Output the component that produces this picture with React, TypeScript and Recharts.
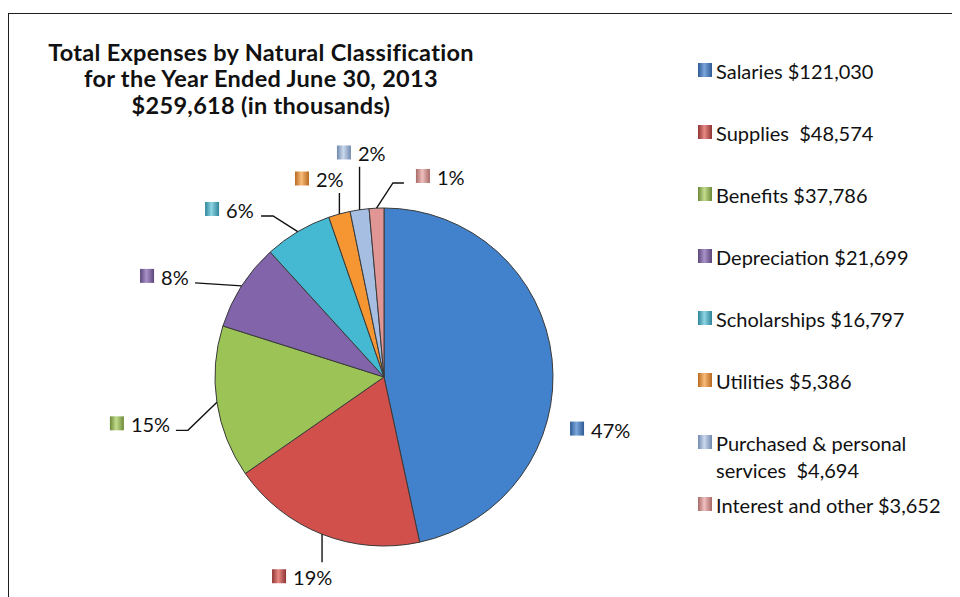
import React from "react";
import { PieChart, Pie, Cell, Legend } from "recharts";

// ---- data ----
const categories = [
  "Salaries",
  "Supplies ",
  "Benefits",
  "Depreciation",
  "Scholarships",
  "Utilities",
  "Purchased & personal\nservices ",
  "Interest and other",
];
const amounts = [121030, 48574, 37786, 21699, 16797, 5386, 4694, 3652];
const titleLines = [
  "Total Expenses by Natural Classification",
  "for the Year Ended June 30, 2013",
  "$259,618 (in thousands)",
];

// ---- styles ----
const sliceColors = ["#4281CB", "#D2504B", "#9BC355", "#8264AA", "#46B9D2", "#F59632", "#A5BEE1", "#E19696"];
const markerDark = ["#2E5B94", "#8E3432", "#6C8A37", "#5A4579", "#2E8498", "#B8691F", "#7189AE", "#A86866"];
const markerLight = ["#7AA6DA", "#E88A86", "#C3DC8E", "#A992C8", "#8DD5E4", "#F8BC7A", "#CBD9EE", "#EFC0BF"];

// label layout relative to each slice's outer-edge midpoint (computed by recharts)
const labelLayout: { dx: number; dy: number; line: number[][] }[] = [
  { dx: 18, dy: 69.5, line: [] },
  { dx: -50, dy: 42, line: [[0, 28]] },
  { dx: -107, dy: 21, line: [[-29, 28], [-41, 28]] },
  { dx: -101.6, dy: -10, line: [[-46.6, -3]] },
  { dx: -92.7, dy: -22.7, line: [[-24.7, -15.7], [-36.7, -15.7]] },
  { dx: -44.4, dy: -35.5, line: [[0, -21]] },
  { dx: -22.6, dy: -57.3, line: [[0, -43]] },
  { dx: 39.4, dy: -32.2, line: [[16.4, -25.2], [27.4, -25.2]] },
];

const data = categories.map((c, i) => ({ name: c, value: amounts[i] }));
const legendLabels = categories.map((c, i) => `${c} $${amounts[i].toLocaleString("en-US")}`);

const RAD = Math.PI / 180;
const FONT = "Lato, 'Open Sans', sans-serif";

const renderLabel = (props: any) => {
  const { cx, cy, midAngle, outerRadius, index, percent } = props;
  const ex = cx + outerRadius * Math.cos(-midAngle * RAD);
  const ey = cy + outerRadius * Math.sin(-midAngle * RAD);
  const L = labelLayout[index];
  const mx = ex + L.dx;
  const my = ey + L.dy;
  const pts = [[ex, ey], ...L.line.map(([a, b]) => [ex + a, ey + b])];
  return (
    <g key={`lbl-${index}`}>
      {L.line.length > 0 && (
        <polyline
          points={pts.map((p) => p.join(",")).join(" ")}
          fill="none"
          stroke="#111"
          strokeWidth={1.4}
        />
      )}
      <rect x={mx} y={my - 7} width={14} height={14} fill={`url(#mk${index})`} />
      <text x={mx + 21} y={my + 9} fontSize={20} fontFamily={FONT} fill="#111">
        {Math.round(percent * 100)}%
      </text>
    </g>
  );
};

const renderLegend = (props: any) => {
  const payload = props.payload || [];
  return (
    <div style={{ position: "relative", width: 260 }}>
      {payload.map((_: any, i: number) => (
        <div key={i} style={{ position: "relative", height: 62.1 }}>
          <span
            style={{
              position: "absolute",
              left: 0,
              top: 5,
              width: 14,
              height: 14,
              background: `linear-gradient(to right, ${markerDark[i]}, ${markerLight[i]} 45%, ${markerDark[i]})`,
            }}
          />
          <div
            style={{
              position: "absolute",
              left: 18,
              top: 0,
              whiteSpace: "pre",
              lineHeight: "27px",
              fontSize: 20,
              fontFamily: FONT,
              color: "#111",
            }}
          >
            {legendLabels[i]}
          </div>
        </div>
      ))}
    </div>
  );
};

export default function App() {
  return (
    <div style={{ position: "relative", width: 952, height: 589, overflow: "hidden" }}>
      <style>{`html,body{overflow:hidden}`}</style>
      <div
        style={{
          position: "absolute",
          left: -0.5,
          top: 4.5,
          width: 1000,
          height: 700,
          borderLeft: "1.6px solid #1e1e1e",
          borderTop: "1.6px solid #1e1e1e",
          boxSizing: "border-box",
        }}
      />
      <div
        style={{
          position: "absolute",
          left: 3,
          top: 31,
          width: 500,
          textAlign: "center",
          fontFamily: FONT,
          fontWeight: 700,
          fontSize: 23.5,
          letterSpacing: "0.3px",
          lineHeight: "26.3px",
          color: "#111",
        }}
      >
        {titleLines.map((t, i) => (
          <div key={i}>{t}</div>
        ))}
      </div>
      <div style={{ position: "absolute", left: 0, top: 0 }}>
        <PieChart width={944} height={581} margin={{ top: 0, right: 0, bottom: 0, left: 0 }}>
          <defs>
            {sliceColors.map((c, i) => (
              <linearGradient key={i} id={`mk${i}`} x1="0" y1="0" x2="1" y2="0">
                <stop offset="0%" stopColor={markerDark[i]} />
                <stop offset="45%" stopColor={markerLight[i]} />
                <stop offset="100%" stopColor={markerDark[i]} />
              </linearGradient>
            ))}
          </defs>
          <Pie
            data={data}
            dataKey="value"
            nameKey="name"
            cx={376}
            cy={369}
            outerRadius={169}
            startAngle={90}
            endAngle={-270}
            stroke="#3a3a3a"
            strokeWidth={1}
            label={renderLabel}
            labelLine={false}
            isAnimationActive={false}
          >
            {data.map((_, i) => (
              <Cell key={i} fill={sliceColors[i]} />
            ))}
          </Pie>
          <Legend
            layout="vertical"
            align="right"
            verticalAlign="top"
            content={renderLegend}
            wrapperStyle={{ left: 690, top: 49.8, width: 260, height: 510 }}
          />
        </PieChart>
      </div>
    </div>
  );
}
